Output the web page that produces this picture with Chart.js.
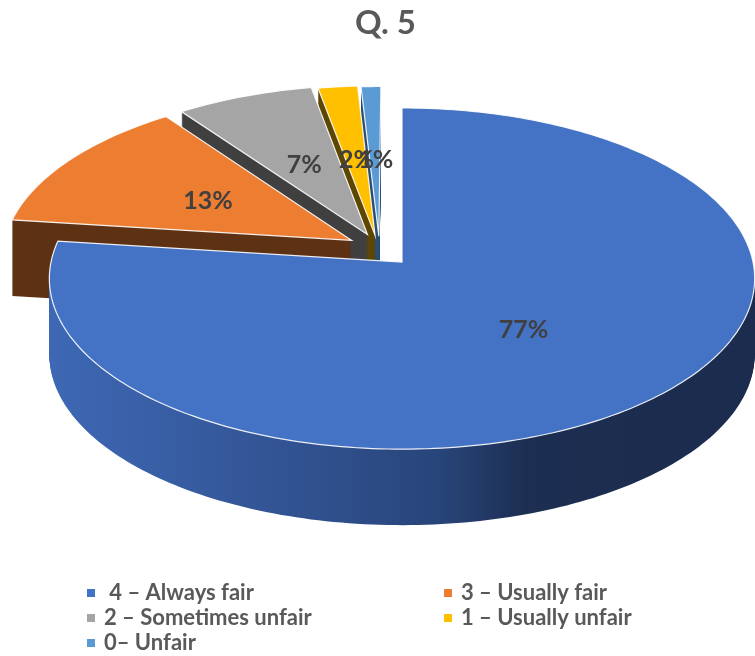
<!DOCTYPE html>
<html>
<head>
<meta charset="utf-8">
<script src="https://cdn.jsdelivr.net/npm/chart.js@4"></script>
<style>
  body { margin: 0; background: #fff; }
  canvas { display: block; }
</style>
</head>
<body>
<canvas id="q5" width="755" height="656"></canvas>
<script>
// Q. 5 - 3D exploded pie, drawn from the pie controller's arcs

const answers = [' 4 – Always fair', '3 – Usually fair', '2 – Sometimes unfair', '1 – Usually unfair', '0– Unfair'];
const shares = [77, 13, 7, 2, 1];

const topColors = ['#4472C4', '#ED7D31', '#A5A5A5', '#FFC000', '#5B9BD5'];
const sideColors = ['blue-gradient', '#5E3214', '#404040', '#5F4700', '#2C5075'];
// explode shift of each slice, in unit-circle space
const shifts = [[0, 0], [-0.146, -0.13], [-0.1, -0.165], [-0.078, -0.16], [-0.067, -0.155]];
// back slices first, front slice last
const drawOrder = [4, 3, 2, 1, 0];

const view = { cx: 402, cy: 262, rx: 351, ry: 169, persp: 0.097, depth: 76 };

function proj(u, v) {
  const w = 1 - view.persp * v;
  return [view.cx + view.rx * u / w, view.cy + view.ry * v / w];
}

function slicePath(ctx, a0, a1, shift, dy) {
  const [su, sv] = shift;
  const n = Math.max(2, Math.ceil((a1 - a0) / 0.02));
  ctx.beginPath();
  let p = proj(su, sv);
  ctx.moveTo(p[0], p[1] + dy);
  for (let k = 0; k <= n; k++) {
    const t = a0 + (a1 - a0) * k / n;
    p = proj(Math.cos(t) + su, Math.sin(t) + sv);
    ctx.lineTo(p[0], p[1] + dy);
  }
  ctx.closePath();
}

const pie3d = {
  id: 'pie3d',
  beforeDatasetsDraw(chart) {
    const ctx = chart.ctx;
    const arcs = chart.getDatasetMeta(0).data;

    const blueSide = ctx.createLinearGradient(50, 0, 755, 0);
    blueSide.addColorStop(0, '#3E68B5');
    blueSide.addColorStop(0.4, '#2F4F8C');
    blueSide.addColorStop(0.55, '#28457A');
    blueSide.addColorStop(0.68, '#1C2E51');
    blueSide.addColorStop(1, '#1B2C4E');

    ctx.save();
    drawOrder.forEach(i => {
      const { startAngle, endAngle } = arcs[i].getProps(['startAngle', 'endAngle'], true);
      ctx.fillStyle = i === 0 ? blueSide : sideColors[i];
      for (let d = view.depth; d >= 1; d--) {
        slicePath(ctx, startAngle, endAngle, shifts[i], d);
        ctx.fill();
      }
      slicePath(ctx, startAngle, endAngle, shifts[i], 0);
      ctx.fillStyle = topColors[i];
      ctx.fill();
      ctx.strokeStyle = 'rgba(255,255,255,0.9)';
      ctx.lineWidth = 1.2;
      ctx.stroke();
    });

    // value labels at half radius
    ctx.font = 'bold 25px Lato';
    ctx.fillStyle = '#404040';
    ctx.textAlign = 'center';
    ctx.textBaseline = 'middle';
    arcs.forEach((arc, i) => {
      const { startAngle, endAngle } = arc.getProps(['startAngle', 'endAngle'], true);
      const mid = (startAngle + endAngle) / 2;
      const p = proj(0.5 * Math.cos(mid) + shifts[i][0], 0.5 * Math.sin(mid) + shifts[i][1]);
      ctx.fillText(shares[i] + '%', p[0] + 1, p[1] + 2);
    });
    ctx.restore();
    return false;
  },
  afterDraw(chart) {
    const ctx = chart.ctx;
    ctx.save();
    ctx.font = 'bold 22px Lato';
    ctx.textBaseline = 'middle';
    ctx.textAlign = 'left';
    answers.forEach((label, i) => {
      const x = [87, 444][i % 2];
      const y = 593 + Math.floor(i / 2) * 25;
      ctx.fillStyle = topColors[i];
      ctx.fillRect(x, y - 4, 8, 8);
      ctx.fillStyle = '#595959';
      ctx.fillText(label, x + 17, y);
    });
    ctx.restore();
  }
};

new Chart(document.getElementById('q5'), {
  type: 'pie',
  data: {
    labels: answers,
    datasets: [{ data: shares, backgroundColor: topColors }]
  },
  options: {
    responsive: false,
    animation: false,
    devicePixelRatio: 1,
    layout: { padding: { left: 16 } },
    plugins: {
      legend: { display: false },
      tooltip: { enabled: false },
      title: {
        display: true,
        text: 'Q. 5',
        color: '#595959',
        font: { family: 'Lato', size: 33, weight: 'bold' },
        padding: { top: 4, bottom: 10 }
      }
    }
  },
  plugins: [pie3d]
});
</script>
</body>
</html>
